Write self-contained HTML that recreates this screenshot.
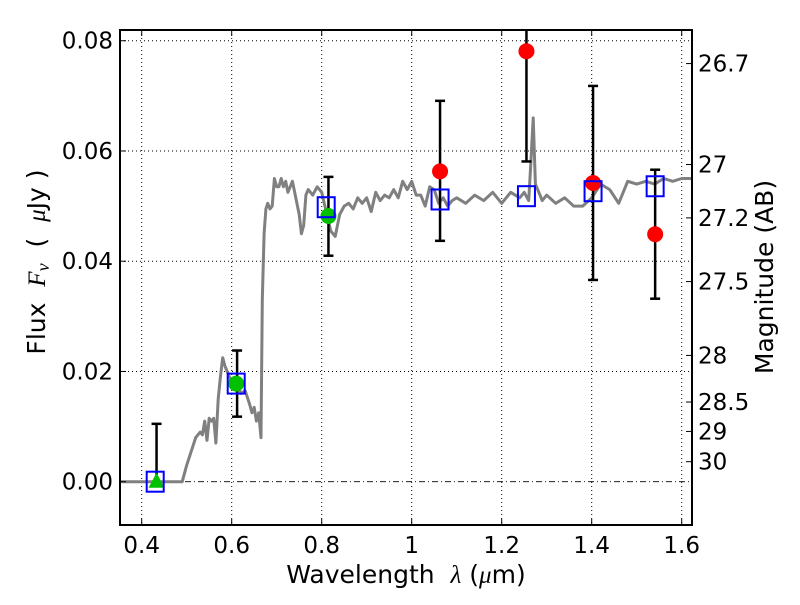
<!DOCTYPE html>
<html><head><meta charset="utf-8"><style>
body{margin:0;background:#fff;}
svg text{font-family:"DejaVu Sans","Liberation Sans",sans-serif;fill:#000;}
</style></head><body>
<svg id="chart" width="800" height="600" viewBox="0 0 800 600" xmlns="http://www.w3.org/2000/svg">
<rect width="800" height="600" fill="#fff"/>
<g id="grid"></g>
<g id="plot"></g>
<g id="axes"></g>
</svg>
<script>
const xTicks=[0.4,0.6,0.8,1.0,1.2,1.4,1.6];
const xTickLabels=["0.4","0.6","0.8","1","1.2","1.4","1.6"];
const yTicks=[0,0.02,0.04,0.06,0.08];
const yTickLabels=["0.00","0.02","0.04","0.06","0.08"];
const magTicks=[26.7,27,27.2,27.5,28,28.5,29,30];
const magTickLabels=["26.7","27","27.2","27.5","28","28.5","29","30"];
const specWave=[0.352,0.49,0.5,0.52,0.53,0.535,0.54,0.545,0.55,0.555,0.56,0.565,0.57,0.575,0.58,0.585,0.59,0.6,0.61,0.62,0.63,0.64,0.645,0.65,0.655,0.66,0.665,0.668,0.672,0.676,0.68,0.685,0.69,0.695,0.7,0.705,0.71,0.715,0.72,0.725,0.73,0.735,0.74,0.745,0.75,0.755,0.76,0.765,0.77,0.78,0.79,0.8,0.81,0.82,0.83,0.84,0.85,0.86,0.87,0.88,0.89,0.9,0.91,0.92,0.93,0.94,0.95,0.96,0.97,0.98,0.99,1.0,1.01,1.02,1.03,1.04,1.05,1.06,1.07,1.08,1.09,1.1,1.12,1.14,1.16,1.18,1.2,1.22,1.24,1.25,1.26,1.265,1.27,1.275,1.28,1.29,1.3,1.32,1.34,1.36,1.38,1.4,1.42,1.44,1.46,1.48,1.5,1.52,1.54,1.56,1.58,1.6,1.623];
const specFlux=[0,0,0.003,0.008,0.009,0.0085,0.011,0.0075,0.0115,0.011,0.0115,0.007,0.015,0.019,0.0225,0.021,0.02,0.018,0.0185,0.016,0.0165,0.014,0.0125,0.0135,0.011,0.0125,0.008,0.033,0.045,0.0495,0.0505,0.0495,0.05,0.055,0.0535,0.0535,0.055,0.0535,0.0545,0.0525,0.0535,0.0545,0.0525,0.0505,0.0485,0.0450,0.0465,0.052,0.053,0.052,0.0535,0.0525,0.0490,0.0455,0.0445,0.0485,0.050,0.0505,0.0495,0.0515,0.0505,0.0515,0.049,0.0525,0.0510,0.0520,0.0515,0.0530,0.0515,0.0545,0.0530,0.0545,0.0520,0.0520,0.0500,0.0535,0.0530,0.0505,0.0515,0.0500,0.0510,0.0515,0.0505,0.0520,0.0510,0.0525,0.0505,0.0525,0.0515,0.0525,0.0510,0.058,0.066,0.054,0.0530,0.0510,0.0520,0.0505,0.0515,0.0500,0.0500,0.0515,0.0540,0.0530,0.0505,0.0545,0.0540,0.0545,0.0540,0.0550,0.0545,0.0550,0.0550];
const modelWave=[0.43,0.61,0.81,1.063,1.255,1.403,1.541];
const modelFlux=[0.0,0.0178,0.0498,0.0512,0.0518,0.0527,0.0536];
const greenWave=[0.61,0.815];
const greenFlux=[0.0178,0.0482];
const triWave=[0.433];
const triFlux=[0.0];
const redWave=[1.063,1.255,1.403,1.541];
const redFlux=[0.0563,0.0781,0.0542,0.0449];
const errWave=[0.433,0.612,0.815,1.063,1.255,1.403,1.541];
const errLow=[0.0,0.0118,0.0410,0.0437,0.0581,0.0366,0.0332];
const errHigh=[0.0105,0.0238,0.0553,0.0691,0.0860,0.0718,0.0566];

const L=120,R=692,T=30,B=525;
const X=v=>411.7+(v-1)*450;
const Y=f=>481.7-f*5512;
const NS="http://www.w3.org/2000/svg";
function mk(tag,attrs,parent,text){const e=document.createElementNS(NS,tag);for(const k in attrs)e.setAttribute(k,attrs[k]);if(text!==undefined)e.textContent=text;parent.appendChild(e);return e;}
const grid=document.getElementById('grid'),plot=document.getElementById('plot'),axes=document.getElementById('axes');

xTicks.forEach(v=>{const l=mk('line',{x1:X(v),x2:X(v),y1:T,y2:B,stroke:'#000','stroke-width':1,'stroke-dasharray':'1,3'},grid);

});
yTicks.forEach(v=>{if(v===0)return;const l=mk('line',{x1:L,x2:R,y1:Y(v),y2:Y(v),stroke:'#000','stroke-width':1,'stroke-dasharray':'1,3'},grid);

});
const zl=mk('line',{x1:L,x2:R,y1:Y(0),y2:Y(0),stroke:'#000','stroke-width':0.8,'stroke-dasharray':'6,3,1,3'},grid);



const cp=mk('clipPath',{id:'clip'},plot);mk('rect',{x:L,y:T,width:R-L,height:B-T},cp);
const pts=specWave.map((w,i)=>X(w).toFixed(1)+','+Y(specFlux[i]).toFixed(1)).join(' ');
const sp=mk('polyline',{points:pts,fill:'none',stroke:'#808080','stroke-width':3,'stroke-linejoin':'round','clip-path':'url(#clip)'},plot);



errWave.forEach((w,i)=>{const g=mk('g',{'clip-path':'url(#clip)'},plot);


const x=X(w),y1=Y(errLow[i]),y2=Y(errHigh[i]);
mk('line',{x1:x,x2:x,y1:y1,y2:y2,stroke:'#000','stroke-width':2.5},g);
mk('line',{x1:x-5,x2:x+5,y1:y2,y2:y2,stroke:'#000','stroke-width':2.5},g);
if(errLow[i]>0)mk('line',{x1:x-5,x2:x+5,y1:y1,y2:y1,stroke:'#000','stroke-width':2.5},g);});

triWave.forEach((w,i)=>{const x=X(w),y=Y(triFlux[i]);const p=mk('polygon',{points:`${x},${y-9} ${x-8},${y+6} ${x+8},${y+6}`,fill:'#00c000'},plot);

});
greenWave.forEach((w,i)=>{const c=mk('circle',{cx:X(w),cy:Y(greenFlux[i]),r:8,fill:'#00c000'},plot);

});
redWave.forEach((w,i)=>{const c=mk('circle',{cx:X(w),cy:Y(redFlux[i]),r:8,fill:'#ff0000'},plot);

});
modelWave.forEach((w,i)=>{const r=mk('rect',{x:X(w)-8.5,y:Y(modelFlux[i])-10,width:17,height:20,fill:'none',stroke:'#0000ff','stroke-width':2},plot);

});

const fr=mk('rect',{x:L,y:T,width:R-L,height:B-T,fill:'none',stroke:'#000','stroke-width':2},axes);


xTicks.forEach((v,i)=>{mk('line',{x1:X(v),x2:X(v),y1:B,y2:B-6,stroke:'#000'},axes);mk('line',{x1:X(v),x2:X(v),y1:T,y2:T+6,stroke:'#000'},axes);
const t=mk('text',{x:X(v),y:B+28,'text-anchor':'middle','font-size':23},axes,xTickLabels[i]);

});
yTicks.forEach((v,i)=>{mk('line',{x1:L,x2:L+6,y1:Y(v),y2:Y(v),stroke:'#000'},axes);
const t=mk('text',{x:L-7,y:Y(v)+8,'text-anchor':'end','font-size':23},axes,yTickLabels[i]);

});
magTicks.forEach((m,i)=>{const y=Y(Math.pow(10,(23.9-m)/2.5));mk('line',{x1:R,x2:R-6,y1:y,y2:y,stroke:'#000'},axes);
const t=mk('text',{x:R+6,y:y+8,'font-size':23},axes,magTickLabels[i]);

});

const xt=mk('text',{x:406,y:583,'text-anchor':'middle','font-size':25},axes);


xt.innerHTML='Wavelength\u00a0\u00a0<tspan font-family="Liberation Serif" font-style="italic">λ</tspan> (<tspan font-family="Liberation Serif" font-style="italic">μ</tspan>m)';
const yt=mk('text',{x:0,y:0,'text-anchor':'middle','font-size':25,transform:'translate(45,262) rotate(-90)'},axes);


yt.innerHTML='Flux\u00a0\u00a0<tspan font-family="Liberation Serif" font-style="italic">F</tspan><tspan font-family="Liberation Serif" font-style="italic" font-size="18" dy="4">ν</tspan><tspan dy="-4">\u00a0\u00a0(\u00a0\u00a0<tspan font-family="Liberation Serif" font-style="italic">μ</tspan>Jy )</tspan>';
const rt=mk('text',{x:0,y:0,'text-anchor':'middle','font-size':25,transform:'translate(773,277) rotate(-90)'},axes,'Magnitude (AB)');


</script>
</body></html>
